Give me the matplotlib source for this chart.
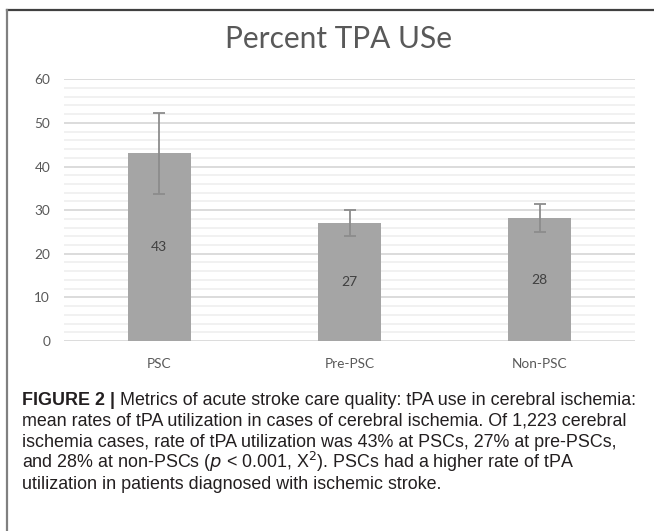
import matplotlib
matplotlib.use("Agg")
import matplotlib.pyplot as plt
from matplotlib.lines import Line2D
import numpy as np

# data
categories = ["PSC", "Pre-PSC", "Non-PSC"]
rates = [43.2, 27.0, 28.2]
labels = ["43", "27", "28"]
err_low = [9.5, 2.9, 3.3]
err_high = [9.1, 3.1, 3.2]
yticks = [0, 10, 20, 30, 40, 50, 60]

title = "Percent TPA USe"
caption_lines = [
    "Metrics of acute stroke care quality: tPA use in cerebral ischemia:",
    "mean rates of tPA utilization in cases of cerebral ischemia. Of 1,223 cerebral",
    "ischemia cases, rate of tPA utilization was 43% at PSCs, 27% at pre-PSCs,",
    "and 28% at non-PSCs (",
    "utilization in patients diagnosed with ischemic stroke.",
]

W, H = 654, 531
fig = plt.figure(figsize=(W / 100, H / 100), dpi=100)

# plot area in pixel coords of the reference
x0, x1, ytop, ybot = 64, 635, 79.3, 341
ax = fig.add_axes([x0 / W, 1 - ybot / H, (x1 - x0) / W, (ybot - ytop) / H])

x = np.arange(len(categories))
ax.bar(x, rates, width=0.33, color="#a5a5a5", zorder=3)
ax.errorbar(x, rates, yerr=[err_low, err_high], fmt="none", ecolor="#8c8c8c",
            elinewidth=1.3, capsize=4, capthick=1.3, zorder=4)
for xi, v, lab in zip(x, rates, labels):
    ax.text(xi, v / 2, lab, ha="center", va="center", fontsize=10,
            color="#404040", family="Lato", zorder=5)

ax.set_xlim(-0.5, len(categories) - 0.5)
ax.set_ylim(0, 60)
ax.set_yticks(yticks)
ax.set_yticks(np.arange(0, 61, 2), minor=True)
ax.set_xticks(x)
ax.set_xticklabels(categories)
ax.grid(axis="y", which="major", color="#d9d9d9", lw=1.3, zorder=1)
ax.grid(axis="y", which="minor", color="#f0f0f0", lw=1.3, zorder=0)
ax.tick_params(which="both", length=0, labelsize=9.8, labelcolor="#595959")
ax.tick_params(axis="y", pad=10)
ax.tick_params(axis="x", pad=12)
for lab in ax.get_xticklabels() + ax.get_yticklabels():
    lab.set_family("Lato")
for s in ax.spines.values():
    s.set_visible(False)

fig.text(338 / W, 1 - 48 / H, title, ha="center", va="baseline",
         fontsize=21.5, color="#595959", family="Lato")

# frame of the figure panel
fig.add_artist(Line2D([7 / W, 1], [1 - 10 / H, 1 - 10 / H], color="#404040", lw=1.6))
fig.add_artist(Line2D([7 / W, 7 / W], [0, 1 - 10 / H], color="#808080", lw=1.6))

# caption
cap_x = 22 / W
base = 405
step = 21
fs = 12.9
kw = dict(fontsize=fs, family="Liberation Sans", color="#231f20", va="baseline")
t = fig.text(cap_x, 1 - base / H, "FIGURE 2 | ", fontweight="bold", **kw)
fig.canvas.draw()
bb = t.get_window_extent()
fig.text(bb.x1 / W, 1 - base / H, caption_lines[0], **kw)
for i in (1, 2, 4):
    fig.text(cap_x, 1 - (base + i * step) / H, caption_lines[i], **kw)
fig.text(cap_x, 1 - (base + 3 * step) / H,
         r"and 28% at non-PSCs ($\mathit{p}$ < 0.001, X$^2$). PSCs had a higher rate of tPA",
         **kw)

fig.savefig("out.png", dpi=100)
